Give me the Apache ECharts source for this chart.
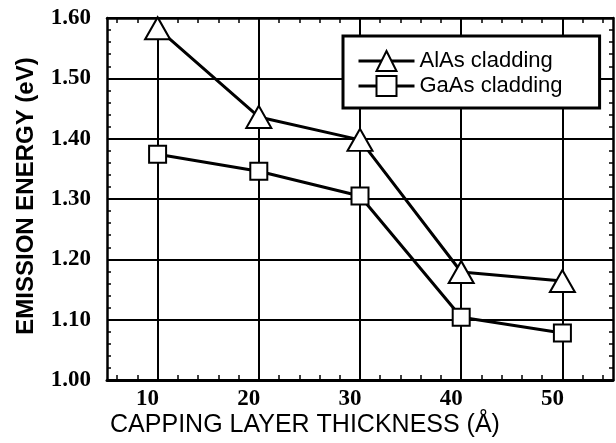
<!DOCTYPE html>
<html>
<head>
<meta charset="utf-8">
<script src="https://cdn.jsdelivr.net/npm/echarts@6/dist/echarts.min.js"></script>
<style>html,body{margin:0;padding:0;background:#fff}#c{width:616px;height:443px}</style>
</head>
<body>
<div id="c"></div>
<script>
// Data
const thickness = [10, 20, 30, 40, 50];
const alasCladding = [1.583, 1.436, 1.398, 1.179, 1.164];
const gaasCladding = [1.374, 1.346, 1.305, 1.104, 1.078];
const seriesNames = ['AlAs cladding', 'GaAs cladding'];
const xMajorTicks = [10, 20, 30, 40, 50];
const xMinorTicks = [6, 8, 12, 14, 16, 18, 22, 24, 26, 28, 32, 34, 36, 38, 42, 44, 46, 48, 52, 54];
const xTitle = 'CAPPING LAYER THICKNESS (Å)';
const yTitle = 'EMISSION ENERGY (eV)';

const sans = '"Liberation Sans", Arial, Helvetica, sans-serif';
const serif = '"Liberation Serif", "Times New Roman", serif';

const chart = echarts.init(document.getElementById('c'), null, {renderer: 'canvas'});

const pairs = (ys) => thickness.map((x, i) => [x, ys[i]]);

const minorAxis = (pos, showLine) => ({
  type: 'value', position: pos, min: 5, max: 55,
  axisLine: {show: showLine, onZero: false, lineStyle: {color: '#000', width: 2.5}},
  axisTick: {show: true, inside: true, length: 5, customValues: xMinorTicks, lineStyle: {color: '#000', width: 1.5}},
  axisLabel: {show: false},
  splitLine: {show: false}
});

const yAxisDef = (pos, labels) => ({
  type: 'value', position: pos, min: 1.0, max: 1.6, interval: 0.1,
  axisLine: {show: true, onZero: false, lineStyle: {color: '#000', width: 2.5}},
  axisTick: {show: true, inside: true, length: 6, lineStyle: {color: '#000', width: 1.5}},
  minorTick: {show: true, splitNumber: 5, length: 4, lineStyle: {color: '#000', width: 1.5}},
  axisLabel: labels ? {
    show: true, formatter: v => v.toFixed(2), color: '#000',
    fontFamily: serif, fontWeight: 'bold', fontSize: 23, margin: 16,
    padding: [6, 0, 0, 0]
  } : {show: false},
  splitLine: {show: labels, lineStyle: {color: '#000', width: 2}}
});

chart.setOption({
  animation: false,
  backgroundColor: '#fff',
  grid: {left: 107, top: 18, right: 3, bottom: 63, containLabel: false, outerBoundsMode: 'none'},
  xAxis: [
    {
      type: 'value', position: 'bottom', min: 5, max: 55,
      axisLine: {show: true, onZero: false, lineStyle: {color: '#000', width: 3}},
      axisTick: {show: true, inside: true, length: 6, customValues: xMajorTicks, lineStyle: {color: '#000', width: 2}},
      axisLabel: {
        show: true, customValues: xMajorTicks, color: '#000',
        fontFamily: serif, fontWeight: 'bold', fontSize: 23, margin: 8,
        padding: [0, 20, 0, 0]
      },
      splitLine: {show: true, lineStyle: {color: '#000', width: 2}}
    },
    minorAxis('bottom', false),
    minorAxis('top', true)
  ],
  yAxis: [yAxisDef('left', true), yAxisDef('right', false)],
  legend: {
    orient: 'vertical', left: 343, top: 36,
    itemWidth: 56, itemHeight: 25, itemGap: 3,
    padding: [14, 37, 11, 14],
    borderColor: '#000', borderWidth: 3, backgroundColor: '#fff',
    textStyle: {fontFamily: sans, fontSize: 22, color: '#000'},
    lineStyle: {color: '#000', width: 3},
    itemStyle: {color: '#fff', borderColor: '#000', borderWidth: 2},
    data: seriesNames
  },
  series: [
    {
      name: seriesNames[0], type: 'line', xAxisIndex: 0, yAxisIndex: 0,
      data: pairs(alasCladding),
      symbol: 'triangle', symbolSize: [25, 22],
      lineStyle: {color: '#000', width: 3},
      itemStyle: {color: '#fff', borderColor: '#000', borderWidth: 2},
      z: 5
    },
    {
      name: seriesNames[1], type: 'line', xAxisIndex: 0, yAxisIndex: 0,
      data: pairs(gaasCladding),
      symbol: 'rect', symbolSize: 17,
      lineStyle: {color: '#000', width: 3},
      itemStyle: {color: '#fff', borderColor: '#000', borderWidth: 2},
      z: 5
    }
  ],
  graphic: [
    {
      type: 'text', x: 26, y: 196, rotation: Math.PI / 2,
      style: {text: yTitle, font: 'bold 24px ' + sans, fill: '#000', textAlign: 'center', textVerticalAlign: 'middle'}
    },
    {
      type: 'text', x: 305, y: 425,
      style: {text: xTitle, font: '25px ' + sans, fill: '#000', textAlign: 'center', textVerticalAlign: 'middle'}
    }
  ]
});
</script>
</body>
</html>
